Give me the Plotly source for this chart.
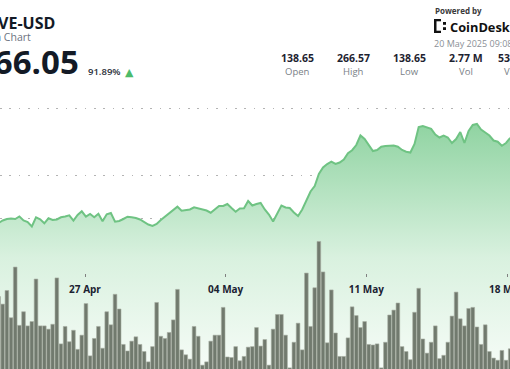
import pandas as pd
import plotly.graph_objects as go

# ---- data ----
price = [165.0, 167.5, 169.0, 169.5, 169.0, 171.5, 167.5, 166.0, 161.5, 170.7,
         168.7, 164.7, 169.7, 168.0, 168.5, 170.7, 171.5, 172.7, 167.3, 173.0,
         176.7, 171.3, 174.0, 170.7, 174.3, 166.7, 173.7, 175.0, 166.3, 167.0,
         169.0, 171.3, 170.7, 170.0, 168.5, 165.8, 163.5, 162.0, 164.0, 168.0,
         171.3, 175.0, 178.5, 181.3, 177.3, 177.8, 178.5, 180.7, 179.8, 179.0,
         177.5, 175.3, 179.0, 182.0, 182.0, 184.0, 180.0, 176.3, 179.5, 179.7,
         187.0, 182.5, 184.0, 185.0, 178.5, 173.5, 166.5, 175.0, 182.5, 180.5,
         180.0, 175.5, 172.0, 178.5, 188.0, 196.5, 202.0, 214.0, 220.5, 224.0,
         226.3, 224.0, 225.5, 228.5, 234.7, 237.8, 243.0, 252.5, 249.0, 243.0,
         237.0, 238.0, 241.3, 242.0, 242.5, 242.5, 241.3, 238.0, 236.3, 235.5,
         244.0, 261.0, 262.0, 260.5, 259.2, 253.5, 250.5, 252.3, 250.5, 245.0,
         249.0, 256.0, 245.0, 257.0, 263.0, 264.0, 258.5, 255.5, 252.5, 247.5,
         246.3, 242.2, 245.0, 250.0]

volume = [15.6, 14.2, 16.7, 11.7, 21.0, 10.3, 12.8, 10.2, 11.0, 18.8,
          10.2, 10.2, 9.6, 10.5, 19.0, 6.9, 10.1, 7.3, 9.4, 5.9,
          8.5, 14.3, 4.7, 7.9, 10.1, 6.1, 12.8, 10.4, 16.0, 13.3,
          6.8, 5.6, 7.4, 8.2, 6.8, 5.5, 3.6, 6.4, 14.5, 8.3,
          7.9, 9.0, 11.3, 16.9, 5.8, 4.9, 4.1, 10.1, 8.3, 3.0,
          3.6, 7.4, 8.5, 8.5, 13.6, 4.5, 4.4, 6.4, 3.8, 4.6,
          6.3, 6.4, 9.9, 6.5, 7.7, 3.0, 9.6, 12.3, 12.3, 8.5,
          2.5, 7.2, 10.7, 5.8, 19.9, 10.1, 17.2, 25.7, 20.1, 7.1,
          16.8, 8.9, 4.6, 4.6, 8.0, 13.7, 12.1, 9.9, 11.0, 6.8,
          6.7, 6.9, 2.5, 7.2, 12.2, 13.1, 14.4, 6.4, 5.5, 4.0,
          12.7, 17.1, 7.8, 5.2, 7.2, 10.2, 4.2, 4.8, 7.2, 12.0,
          16.4, 11.5, 10.2, 13.4, 13.6, 10.0, 6.8, 10.4, 5.5, 4.3,
          3.9, 5.7, 3.9, 6.0]

times = pd.date_range(start="2025-04-22 16:48", periods=len(volume), freq="298min")

stat_values = ["138.65", "266.57", "138.65", "2.77 M", "534.52 M"]
stat_labels = ["Open", "High", "Low", "Vol", "Volume"]

TEXT = "Open Sans"
W, H = 510, 369
TICKFONT = dict(family=TEXT, size=10, color="#1b2232", weight="bold")

fig = go.Figure()
fig.add_trace(go.Scatter(
    x=times, y=price, mode="lines",
    line=dict(color="#6fc383", width=2),
    fill="tozeroy",
    fillgradient=dict(type="vertical",
                      colorscale=[[0, "#f6fcf7"], [0.45, "#d9f1df"], [1, "#8fd3a1"]],
                      start=19, stop=266),
    hoverinfo="skip",
))
fig.add_trace(go.Bar(
    x=times, y=volume, yaxis="y2",
    marker=dict(color="#717a6e", line=dict(color="#a7afa3", width=0.6)),
    hoverinfo="skip",
))

grid = dict(showgrid=True, gridcolor="#b3b3b3", gridwidth=1, griddash="1.5px,7.9px",
            showticklabels=False, zeroline=False, showline=False, ticks="")

fig.update_layout(
    width=W, height=H,
    margin=dict(l=0, r=0, t=0, b=0),
    paper_bgcolor="white", plot_bgcolor="white",
    showlegend=False, bargap=0.12,
    xaxis=dict(type="date", range=["2025-04-22 18:30", "2025-05-18 03:28"],
               anchor="free", position=0.2602, showgrid=False, showline=False,
               zeroline=False, ticks="outside", ticklen=3, tickcolor="#808080",
               tick0="2025-04-27", dtick=7 * 86400000, tickformat="%d %b",
               ticklabelstandoff=4, tickfont=TICKFONT),
    yaxis=dict(range=[19, 388], tickvals=[146, 213, 280], **grid),
    yaxis2=dict(range=[2.294, 70], overlaying="y", side="right",
                tickvals=[10, 20, 30], **grid),
)

def px(x):
    return x / W

def py(y):
    return 1 - y / H

ann = []
# last week label, cut by the right edge (the axis hides overflowing labels)
ann.append(dict(text="18 May", x="2025-05-18", xref="x", y=py(289), yref="paper",
                xanchor="center", yanchor="middle", font=TICKFONT, showarrow=False))
hdr = []
hdr.append(dict(text="AAVE-USD", x=px(57), y=py(23), xanchor="right", yanchor="middle",
                font=dict(family=TEXT, size=16, color="#131a26", weight="bold")))
hdr.append(dict(text="1 Month Chart", x=px(33), y=py(37), xanchor="right", yanchor="middle",
                font=dict(family=TEXT, size=10.5, color="#6b7280")))
hdr.append(dict(text="266.05", x=px(81), y=py(61), xanchor="right", yanchor="middle",
                font=dict(family=TEXT, size=33, color="#131a26", weight="bold")))
hdr.append(dict(text="91.89%", x=px(104), y=py(72), xanchor="center", yanchor="middle",
                font=dict(family=TEXT, size=9.5, color="#2a2f3a", weight=600)))
hdr.append(dict(text="▲", x=px(129.5), y=py(72.5), xanchor="center", yanchor="middle",
                font=dict(family="DejaVu Sans", size=11, color="#4cbb6a")))
centers = [297.8, 353, 409.2, 465.5, 521.0]
for cx, v, l in zip(centers, stat_values, stat_labels):
    hdr.append(dict(text=v, x=px(cx), y=py(58.3), xanchor="center", yanchor="middle",
                    font=dict(family=TEXT, size=10.5, color="#1d2330", weight="bold")))
    hdr.append(dict(text=l, x=px(cx), y=py(71), xanchor="center", yanchor="middle",
                    font=dict(family=TEXT, size=9.5, color="#7a7f87")))
hdr.append(dict(text="Powered by", x=px(433), y=py(10), xanchor="left", yanchor="middle",
                font=dict(family=TEXT, size=8, color="#3a3a3a", weight="bold")))
hdr.append(dict(text="CoinDesk", x=px(447.5), y=py(27), xanchor="left", yanchor="middle",
                font=dict(family=TEXT, size=12.8, color="#111111", weight="bold")))
hdr.append(dict(text="20 May 2025 09:08 UTC", x=px(432), y=py(43.5), xanchor="left", yanchor="middle",
                font=dict(family=TEXT, size=9, color="#8a8f96")))
for a in hdr:
    a.update(xref="paper", yref="paper", showarrow=False)
fig.update_layout(annotations=ann + hdr)

# CoinDesk logo mark
logo = [(434, 19, 436.5, 33), (434, 19, 441, 21.3), (434, 30.7, 441, 33),
        (443, 22, 446, 24.8), (443, 27.2, 446, 30)]
shapes = []
for x0, y0, x1, y1 in logo:
    shapes.append(dict(type="rect", xref="paper", yref="paper",
                       x0=px(x0), x1=px(x1), y0=py(y1), y1=py(y0),
                       fillcolor="#111111", line=dict(width=0)))
fig.update_layout(shapes=shapes)

fig.write_html("out.html", config={"displayModeBar": False},
               post_script="document.body.style.margin='0px';document.body.style.overflow='hidden';")
